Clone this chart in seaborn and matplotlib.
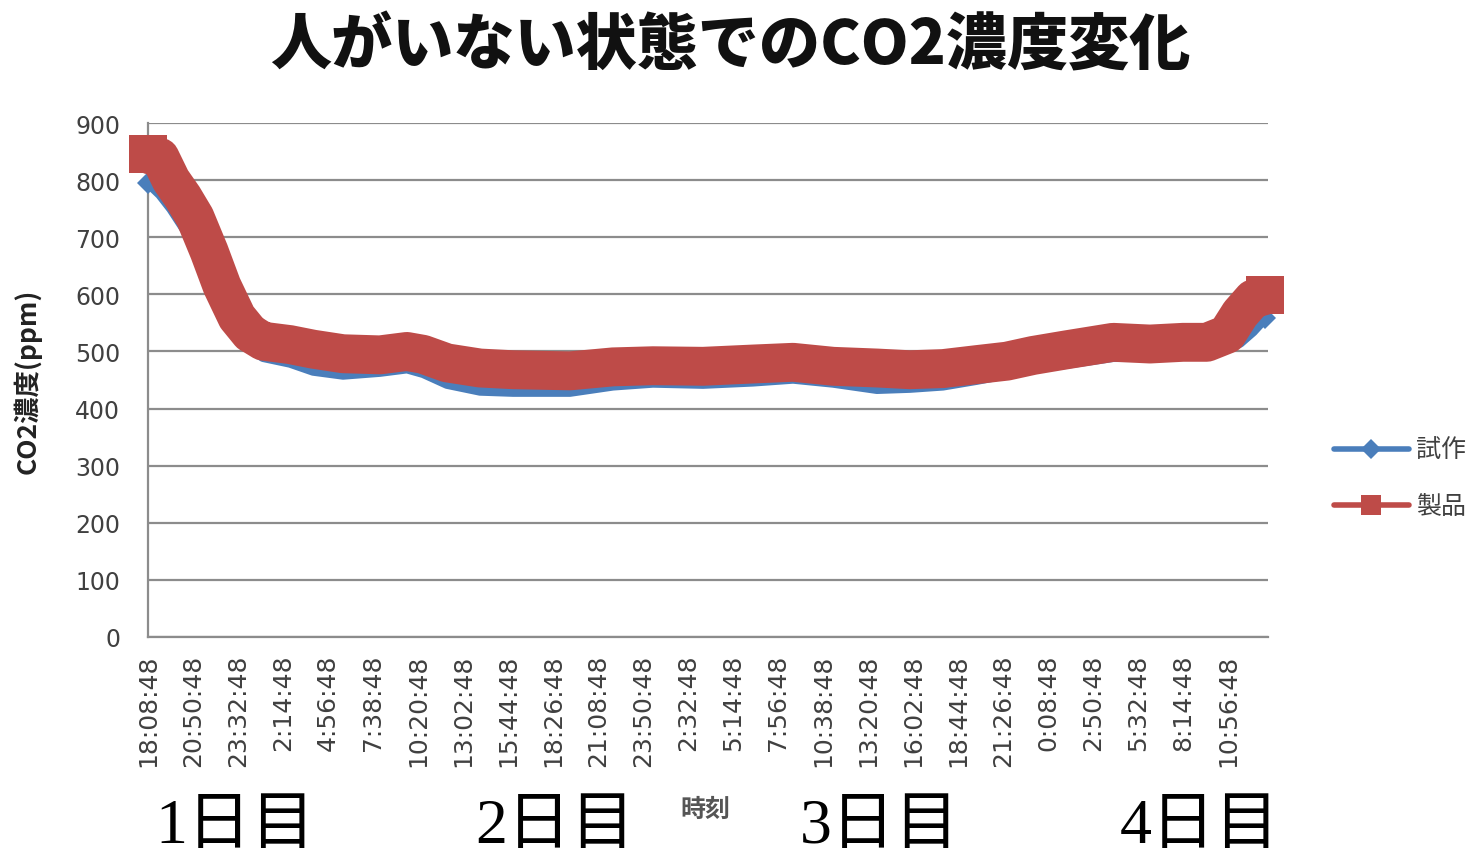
import matplotlib
matplotlib.use("Agg")
import matplotlib.pyplot as plt
from matplotlib.lines import Line2D
import seaborn as sns
import pandas as pd

# Elapsed minutes since the first reading (18:08:48 on day 1)
minutes = [0, 43, 83, 126, 169, 220, 266, 320, 367, 414, 511, 594, 702, 835,
           932, 990, 1076, 1195, 1314, 1519, 1674, 1818, 1998, 2178, 2322,
           2466, 2624, 2743, 2862, 2984, 3092, 3186, 3308, 3474, 3607, 3726,
           3812, 3884, 3931, 3978, 4021]

# CO2 concentration (ppm) of the prototype sensor
prototype_ppm = [795, 775, 750, 718, 690, 640, 585, 530, 505, 490, 480, 466,
                 459, 464, 470, 462, 443, 431, 429, 429, 440, 445, 443, 447,
                 452, 445, 434, 436, 440, 450, 460, 470, 478, 490, 490, 495,
                 500, 507, 515, 535, 558]

# CO2 concentration (ppm) of the commercial product
product_ppm = [845, 840, 800, 770, 735, 675, 615, 560, 532, 518, 512, 504,
               496, 494, 500, 495, 480, 471, 468, 466, 473, 475, 474, 478,
               481, 474, 471, 468, 470, 477, 483, 493, 503, 516, 513, 516,
               516, 530, 566, 592, 598]

series_names = ["試作", "製品"]

# Category labels shown along the time axis (one every 2h42m)
tick_labels = ["18:08:48", "20:50:48", "23:32:48", "2:14:48", "4:56:48",
               "7:38:48", "10:20:48", "13:02:48", "15:44:48", "18:26:48",
               "21:08:48", "23:50:48", "2:32:48", "5:14:48", "7:56:48",
               "10:38:48", "13:20:48", "16:02:48", "18:44:48", "21:26:48",
               "0:08:48", "2:50:48", "5:32:48", "8:14:48", "10:56:48"]
tick_step_min = 162

day_labels = ["1日目", "2日目", "3日目", "4日目"]

sns.set_theme(style="white")
plt.rcParams["font.family"] = ["Noto Sans CJK JP", "DejaVu Sans"]

BLUE = "#4A7EBB"
RED = "#BE4B48"
GRID = "#8C8C8C"
TEXT = "#404040"

df = pd.DataFrame({
    "minutes": minutes * 2,
    "ppm": prototype_ppm + product_ppm,
    "series": [series_names[0]] * len(minutes) + [series_names[1]] * len(minutes),
})

fig = plt.figure(figsize=(14.7, 8.62), dpi=100)
ax = fig.add_axes([0.1007, 0.2599, 0.7619, 0.5962])

# Dense logger readings render as solid bands, so each series is a thick stroke
# with a square/diamond marker closing off both ends
sns.lineplot(data=df[df["series"] == series_names[0]], x="minutes", y="ppm",
             color=BLUE, linewidth=7, marker="D", markersize=11,
             markeredgewidth=0, markevery=[0, len(minutes) - 1],
             ax=ax, legend=False, estimator=None, sort=False, zorder=3)
sns.lineplot(data=df[df["series"] == series_names[1]], x="minutes", y="ppm",
             color=RED, linewidth=28, marker="s", markersize=28,
             markeredgewidth=0, markevery=[0, len(minutes) - 1],
             ax=ax, legend=False, estimator=None, sort=False, zorder=4)
for ln in ax.lines:
    ln.set_clip_on(False)
    ln.set_solid_capstyle("butt")
    ln.set_solid_joinstyle("round")

ax.set_xlim(0, 4032)
ax.set_ylim(0, 900)
ax.set_yticks(range(0, 901, 100))
ax.set_xticks([i * tick_step_min for i in range(len(tick_labels))])
ax.set_xticklabels(tick_labels, rotation=90, fontsize=18, color=TEXT,
                   family=["DejaVu Sans"])
ax.tick_params(axis="y", labelsize=17, labelcolor=TEXT, length=12,
               width=1.6, color=GRID, direction="out", pad=8)
ax.tick_params(axis="x", length=0, pad=12)
for lbl in ax.get_yticklabels():
    lbl.set_family(["DejaVu Sans"])

ax.grid(axis="y", color=GRID, linewidth=1.6)
ax.grid(axis="x", visible=False)
for side in ["top", "right"]:
    ax.spines[side].set_visible(False)
for side in ["left", "bottom"]:
    ax.spines[side].set_color(GRID)
    ax.spines[side].set_linewidth(1.6)

ax.set_xlabel("")
ax.set_ylabel("CO2濃度(ppm)", fontsize=19, fontweight="bold", color="#222222")
ax.yaxis.set_label_coords(-0.095, 0.5)

fig.text(0.497, 0.946, "人がいない状態でのCO2濃度変化", fontsize=44,
         fontweight="heavy", ha="center", va="center", color="#111111")

fig.text(0.48, 0.06, "時刻", fontsize=18, fontweight="bold", color="#555555",
         ha="center", va="center")

day_x = [235, 555, 880, 1200]
for xpix, txt in zip(day_x, day_labels):
    fig.text(xpix / 1470, 0.04, txt, fontsize=46, color="black",
             ha="center", va="center",
             family=["Liberation Serif", "Noto Sans CJK JP"])

handles = [
    Line2D([], [], color=BLUE, linewidth=4, marker="D", markersize=10,
           markeredgewidth=0),
    Line2D([], [], color=RED, linewidth=4, marker="s", markersize=14,
           markeredgewidth=0),
]
fig.legend(handles, series_names, loc="center left",
           bbox_to_anchor=(0.892, 0.444), frameon=False, fontsize=18,
           handlelength=3.0, labelspacing=1.2, handletextpad=0.3,
           labelcolor=TEXT)

fig.savefig("out.png", dpi=100)
